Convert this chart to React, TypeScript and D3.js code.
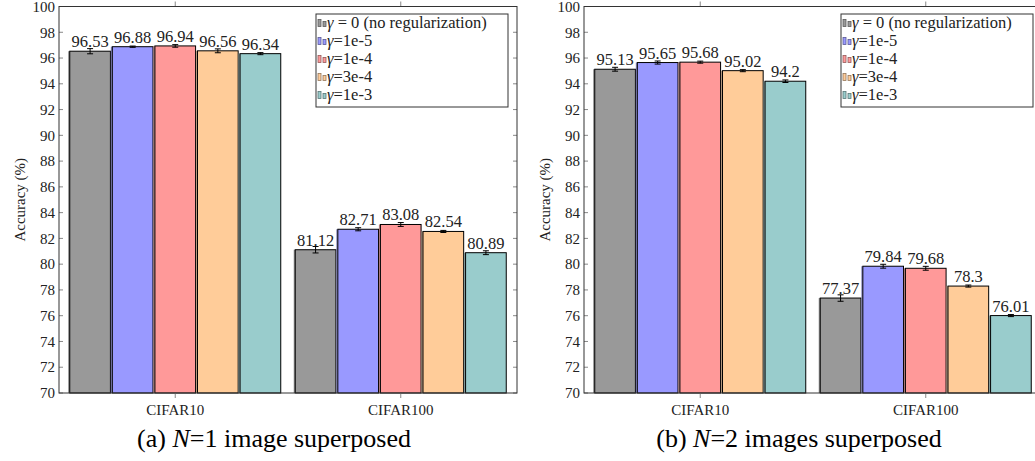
import React from "react";
import * as d3 from "d3";

const categories = ["CIFAR10", "CIFAR100"];
const seriesKeys = ["g0", "g1e5", "g1e4", "g3e4", "g1e3"];
const legendRest = [" = 0 (no regularization)", "=1e-5", "=1e-4", "=3e-4", "=1e-3"];
const colors = ["#999999", "#9999ff", "#ff9999", "#ffcc99", "#99cccc"];

// Panel (a): N=1
const accA_C10 = [96.53, 96.88, 96.94, 96.56, 96.34];
const accA_C100 = [81.12, 82.71, 83.08, 82.54, 80.89];
const errA_C10 = [0.2, 0.05, 0.1, 0.15, 0.08];
const errA_C100 = [0.25, 0.12, 0.15, 0.08, 0.15];
const labelsA_C10 = ["96.53", "96.88", "96.94", "96.56", "96.34"];
const labelsA_C100 = ["81.12", "82.71", "83.08", "82.54", "80.89"];

// Panel (b): N=2
const accB_C10 = [95.13, 95.65, 95.68, 95.02, 94.2];
const accB_C100 = [77.37, 79.84, 79.68, 78.3, 76.01];
const errB_C10 = [0.15, 0.12, 0.08, 0.08, 0.1];
const errB_C100 = [0.25, 0.15, 0.15, 0.08, 0.08];
const labelsB_C10 = ["95.13", "95.65", "95.68", "95.02", "94.2"];
const labelsB_C100 = ["77.37", "79.84", "79.68", "78.3", "76.01"];

const yTicks = [70, 72, 74, 76, 78, 80, 82, 84, 86, 88, 90, 92, 94, 96, 98, 100];

const FONT = "\"Liberation Serif\", \"Times New Roman\", \"DejaVu Serif\", serif";
const fs = (size: number, extra: React.CSSProperties = {}): React.CSSProperties => ({
  fontFamily: FONT,
  fontSize: size,
  ...extra,
});

type PanelProps = {
  ox: number;
  values: number[][];
  errors: number[][];
  labels: string[][];
  captionPrefix: string;
  captionN: string;
  captionSuffix: string;
};

function Panel({ ox, values, errors, labels, captionPrefix, captionN, captionSuffix }: PanelProps) {
  const left = 59 + ox;
  const right = 517 + ox;
  const top = 6.5;
  const bottom = 393;
  const y = d3.scaleLinear().domain([70, 100]).range([bottom, top]);
  const x = d3.scalePoint<string>().domain(categories).range([left, right]).padding(0.5155);
  const inner = d3.scaleBand<string>().domain(seriesKeys).range([-105.5, 105.5]).paddingInner(0.045).paddingOuter(0);
  const bw = inner.bandwidth();
  const legX = right - 9 - 192;
  const legY = 14;
  return (
    <g>
      {categories.map((c, ci) => (
        <g key={c}>
          {seriesKeys.map((s, si) => {
            const v = values[ci][si];
            const bx = (x(c) as number) + (inner(s) as number);
            const cx = bx + bw / 2;
            const e = errors[ci][si];
            return (
              <g key={s}>
                <rect x={bx - 1.5} y={y(v)} width={1.5} height={bottom - y(v)} fill={d3.color(colors[si])!.darker(1.2).toString()} opacity={0.8} />
                <rect x={bx} y={y(v)} width={bw} height={bottom - y(v)} fill={colors[si]} stroke="#000" strokeWidth={1} />
                <line x1={cx} x2={cx} y1={y(v - e)} y2={y(v + e)} stroke="#000" strokeWidth={1} />
                <line x1={cx - 3} x2={cx + 3} y1={y(v - e)} y2={y(v - e)} stroke="#000" strokeWidth={1} />
                <line x1={cx - 3} x2={cx + 3} y1={y(v + e)} y2={y(v + e)} stroke="#000" strokeWidth={1} />
                <text x={cx} y={y(v) - 4} textAnchor="middle" style={fs(16.5)} fill="#222">
                  {labels[ci][si]}
                </text>
              </g>
            );
          })}
        </g>
      ))}
      {yTicks.map((t) => (
        <g key={t}>
          <line x1={left} x2={left + 4} y1={y(t)} y2={y(t)} stroke="#888" />
          <line x1={right - 4} x2={right} y1={y(t)} y2={y(t)} stroke="#888" />
          <text x={left - 4} y={y(t)} dy="0.35em" textAnchor="end" style={fs(15)} fill="#222">
            {t}
          </text>
        </g>
      ))}
      {categories.map((c) => (
        <g key={c}>
          <line x1={x(c)} x2={x(c)} y1={bottom} y2={bottom + 5} stroke="#888" />
          <line x1={x(c)} x2={x(c)} y1={top} y2={top - 5} stroke="#888" />
          <text x={x(c)} y={415} textAnchor="middle" style={fs(15)} fill="#222">
            {c}
          </text>
        </g>
      ))}
      <rect x={left} y={top} width={right - left} height={bottom - top} fill="none" stroke="#333" strokeWidth={1} />
      <text
        transform={`translate(${20 + ox},${(top + bottom) / 2}) rotate(-90)`}
        textAnchor="middle"
        dy="0.35em"
        style={fs(15)}
        fill="#222"
      >
        Accuracy (%)
      </text>
      <rect x={legX} y={legY} width={192} height={93} fill="#fff" stroke="#333" strokeWidth={1} />
      {seriesKeys.map((s, si) => {
        const ry = legY + 8.5 + si * 18;
        const stroke = d3.color(colors[si])!.darker(1.5).toString();
        return (
          <g key={s}>
            <rect x={legX + 2} y={ry - 3} width={3} height={7} fill={colors[si]} stroke={stroke} strokeWidth={0.8} />
            <rect x={legX + 7} y={ry - 1} width={3} height={5} fill={colors[si]} stroke={stroke} strokeWidth={0.8} />
            <text x={legX + 11} y={ry + 5} style={fs(16.5)} fill="#222">
              <tspan style={{ fontStyle: "italic" }}>γ</tspan>
              {legendRest[si]}
            </text>
          </g>
        );
      })}
      <text x={274 + ox} y={447} textAnchor="middle" style={fs(26)} fill="#000">
        {captionPrefix}
        <tspan style={{ fontStyle: "italic" }}>{captionN}</tspan>
        {captionSuffix}
      </text>
    </g>
  );
}

export default function App() {
  return (
    <svg width={1035} height={461} style={{ position: "absolute", left: 0, top: 0, background: "#fff" }}>
      <rect width={1035} height={461} fill="#fff" />
      <Panel
        ox={0}
        values={[accA_C10, accA_C100]}
        errors={[errA_C10, errA_C100]}
        labels={[labelsA_C10, labelsA_C100]}
        captionPrefix="(a) "
        captionN="N"
        captionSuffix="=1 image superposed"
      />
      <Panel
        ox={525}
        values={[accB_C10, accB_C100]}
        errors={[errB_C10, errB_C100]}
        labels={[labelsB_C10, labelsB_C100]}
        captionPrefix="(b) "
        captionN="N"
        captionSuffix="=2 images superposed"
      />
    </svg>
  );
}
